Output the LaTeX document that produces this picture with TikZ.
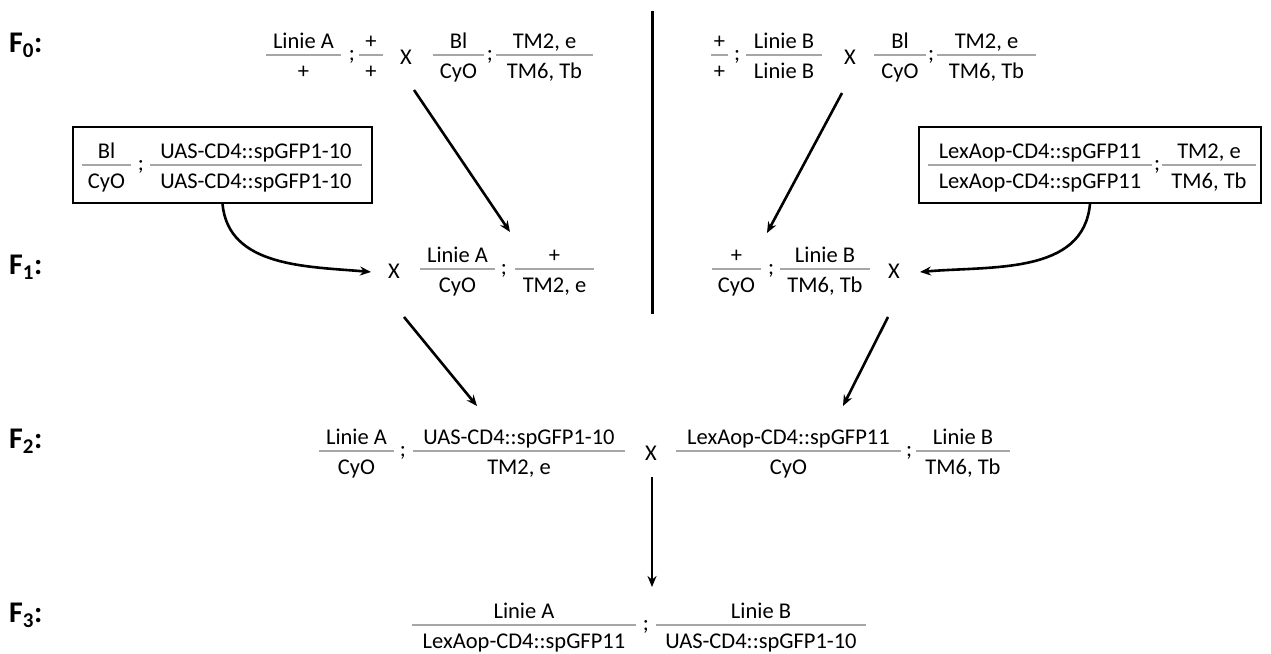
\documentclass[tikz,border=0pt]{standalone}
\usepackage{fontspec}
\setmainfont{Carlito}
\usetikzlibrary{arrows.meta}
\tikzset{
  txt/.style={inner sep=0pt, font=\fontsize{22.5}{26}\selectfont},
  flabel/.style={inner sep=0pt, anchor=base west, font=\fontsize{30}{34}\selectfont\bfseries},
  fracline/.style={draw=black!35, line width=1.6pt},
  genobox/.style={draw=black, line width=1.3pt, inner sep=0pt},
  arr/.style={line width=2.6pt, -{Stealth[length=11pt, width=9pt]}},
  sep/.style={line width=3pt}
}
% fraction: name, x1, x2, y, numerator, denominator
\newcommand{\gfr}[6]{%
  \draw[fracline] (#2,#4) -- (#3,#4);
  \node[txt, anchor=base] (#1n) at ({(#2+#3)/2},#4-7) {#5};
  \node[txt, anchor=base] (#1d) at ({(#2+#3)/2},#4+23) {#6};
}
\newcommand{\semi}[3]{\node[txt] (#1) at (#2,#3+2) {;};}
\newcommand{\cross}[3]{\node[txt] (#1) at (#2,#3+2) {X};}
\begin{document}
\begin{tikzpicture}[x=1pt,y=-1pt]
\useasboundingbox (0,0) rectangle (1271,653);
% generation labels
\node[flabel] (F0) at (9,52) {F\textsubscript{0}:};
\node[flabel] (F1) at (9,274) {F\textsubscript{1}:};
\node[flabel] (F2) at (9,448) {F\textsubscript{2}:};
\node[flabel] (F3) at (9,622) {F\textsubscript{3}:};
% separator
\coordinate (sepT) at (652,11);
\coordinate (sepB) at (652,314);
\draw[sep] (sepT) -- (sepB);
% F0 left
\gfr{aa}{266}{341}{55}{Linie A}{+}
\semi{s1}{352}{55}
\gfr{ab}{359}{383}{55}{+}{+}
\cross{x1}{406}{55}
\gfr{ac}{433}{484}{55}{Bl}{CyO}
\semi{s2}{490}{55}
\gfr{ad}{496}{593}{55}{TM2, e}{TM6, Tb}
% F0 right
\gfr{ba}{711}{728}{55}{+}{+}
\semi{s3}{737}{55}
\gfr{bb}{746}{822}{55}{Linie B}{Linie B}
\cross{x2}{850}{55}
\gfr{bc}{874}{926}{55}{Bl}{CyO}
\semi{s4}{931}{55}
\gfr{bd}{937}{1036}{55}{TM2, e}{TM6, Tb}
% boxes
\node[genobox, minimum width=299pt, minimum height=76pt] (boxL) at (222.5,165) {};
\gfr{la}{82}{131}{165}{Bl}{CyO}
\semi{s5}{141}{165}
\gfr{lb}{150}{362}{165}{UAS-CD4::spGFP1-10}{UAS-CD4::spGFP1-10}
\node[genobox, minimum width=342pt, minimum height=76pt] (boxR) at (1090,165) {};
\gfr{ra}{928}{1152}{165}{LexAop-CD4::spGFP11}{LexAop-CD4::spGFP11}
\semi{s6}{1157}{165}
\gfr{rb}{1162}{1256}{165}{TM2, e}{TM6, Tb}
% F1
\cross{x3}{394}{269}
\gfr{ca}{420}{495}{269}{Linie A}{CyO}
\semi{s7}{504}{269}
\gfr{cb}{515}{594}{269}{+}{TM2, e}
\gfr{da}{712}{761}{269}{+}{CyO}
\semi{s8}{771}{269}
\gfr{db}{780}{870}{269}{Linie B}{TM6, Tb}
\cross{x4}{894}{269}
% F2
\gfr{ea}{319}{394}{451}{Linie A}{CyO}
\semi{s9}{403}{451}
\gfr{eb}{413}{625}{451}{UAS-CD4::spGFP1-10}{TM2, e}
\cross{x5}{651}{451}
\gfr{ec}{676}{901}{451}{LexAop-CD4::spGFP11}{CyO}
\semi{s10}{909}{451}
\gfr{ed}{916}{1010}{451}{Linie B}{TM6, Tb}
% F3
\gfr{ga}{412}{636}{625}{Linie A}{LexAop-CD4::spGFP11}
\semi{s11}{646}{625}
\gfr{gb}{656}{866}{625}{Linie B}{UAS-CD4::spGFP1-10}
% arrow end points
\coordinate (a1s) at (414,90);   \coordinate (a1e) at (510,232);
\coordinate (a2e) at (371,272);
\coordinate (a3s) at (842,93);   \coordinate (a3e) at (767,233);
\coordinate (a4e) at (920,272);
\coordinate (a5s) at (404,317);  \coordinate (a5e) at (477,406);
\coordinate (a6s) at (888,317);  \coordinate (a6e) at (843,406);
\coordinate (a7s) at (652,477);  \coordinate (a7e) at (652,587);
% arrows
\draw[arr] (a1s) -- (a1e);
\draw[arr] (boxL.south) to[out=-85, in=175] (a2e);
\draw[arr] (a3s) -- (a3e);
\draw[arr] (boxR.south) to[out=-95, in=5] (a4e);
\draw[arr] (a5s) -- (a5e);
\draw[arr] (a6s) -- (a6e);
\draw[arr] (a7s) -- (a7e);
\end{tikzpicture}
\end{document}
